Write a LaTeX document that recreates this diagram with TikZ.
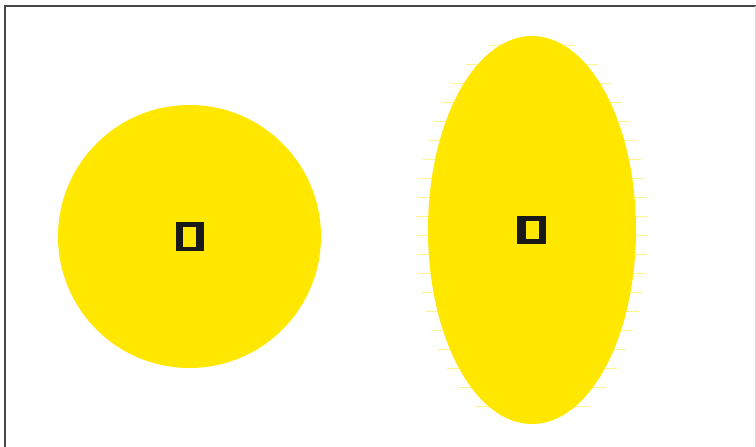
\documentclass[tikz,border=0pt]{standalone}
\usetikzlibrary{shapes.geometric}
\definecolor{sunyellow}{RGB}{255,231,0}
\definecolor{framegray}{RGB}{70,70,70}
\begin{document}
\begin{tikzpicture}[x=1pt,y=-1pt,
  blob/.style={fill=sunyellow,draw=none,inner sep=0pt},
  outerbox/.style={fill=black!90,draw=none,inner sep=0pt,rectangle},
  innerbox/.style={fill=sunyellow,draw=none,inner sep=0pt,rectangle},
  tick/.style={draw=sunyellow!45,line width=0.7pt},
  framestyle/.style={draw=framegray,line width=2pt}]
\useasboundingbox (0,0) rectangle (756,447);
\fill[white] (0,0) rectangle (756,447);
% frame
\coordinate (fbl) at (5,447);
\coordinate (ftl) at (5,6);
\coordinate (ftr) at (756,6);
\draw[framestyle] (fbl) -- (ftl) -- (ftr);
\draw[draw=black!15,line width=0.6pt] (755,6) -- (755,447);
% ticks around ellipse
\foreach \yy in {45,64,...,420} {
  \pgfmathsetmacro{\dx}{104*sqrt(max(0,1-((\yy-230)/194)^2))}
  \draw[tick] ({532-\dx-12},\yy) -- ({532-\dx+4},\yy);
  \draw[tick] ({532+\dx-4},\yy) -- ({532+\dx+12},\yy);
}
% circle
\node[blob,circle,minimum size=263pt] (circ) at (189.5,236.5) {};
% ellipse
\node[blob,ellipse,minimum width=208pt,minimum height=388pt] (ell) at (532,230) {};
% squares
\node[outerbox,minimum width=28pt,minimum height=29pt] (sqL) at (circ.center) {};
\node[innerbox,minimum width=13pt,minimum height=20pt] (sqLin) at (189.5,237) {};
\node[outerbox,minimum width=29pt,minimum height=28pt] (sqR) at (531.5,230) {};
\node[innerbox,minimum width=13pt,minimum height=18pt] (sqRin) at (532.5,230) {};
\end{tikzpicture}
\end{document}
